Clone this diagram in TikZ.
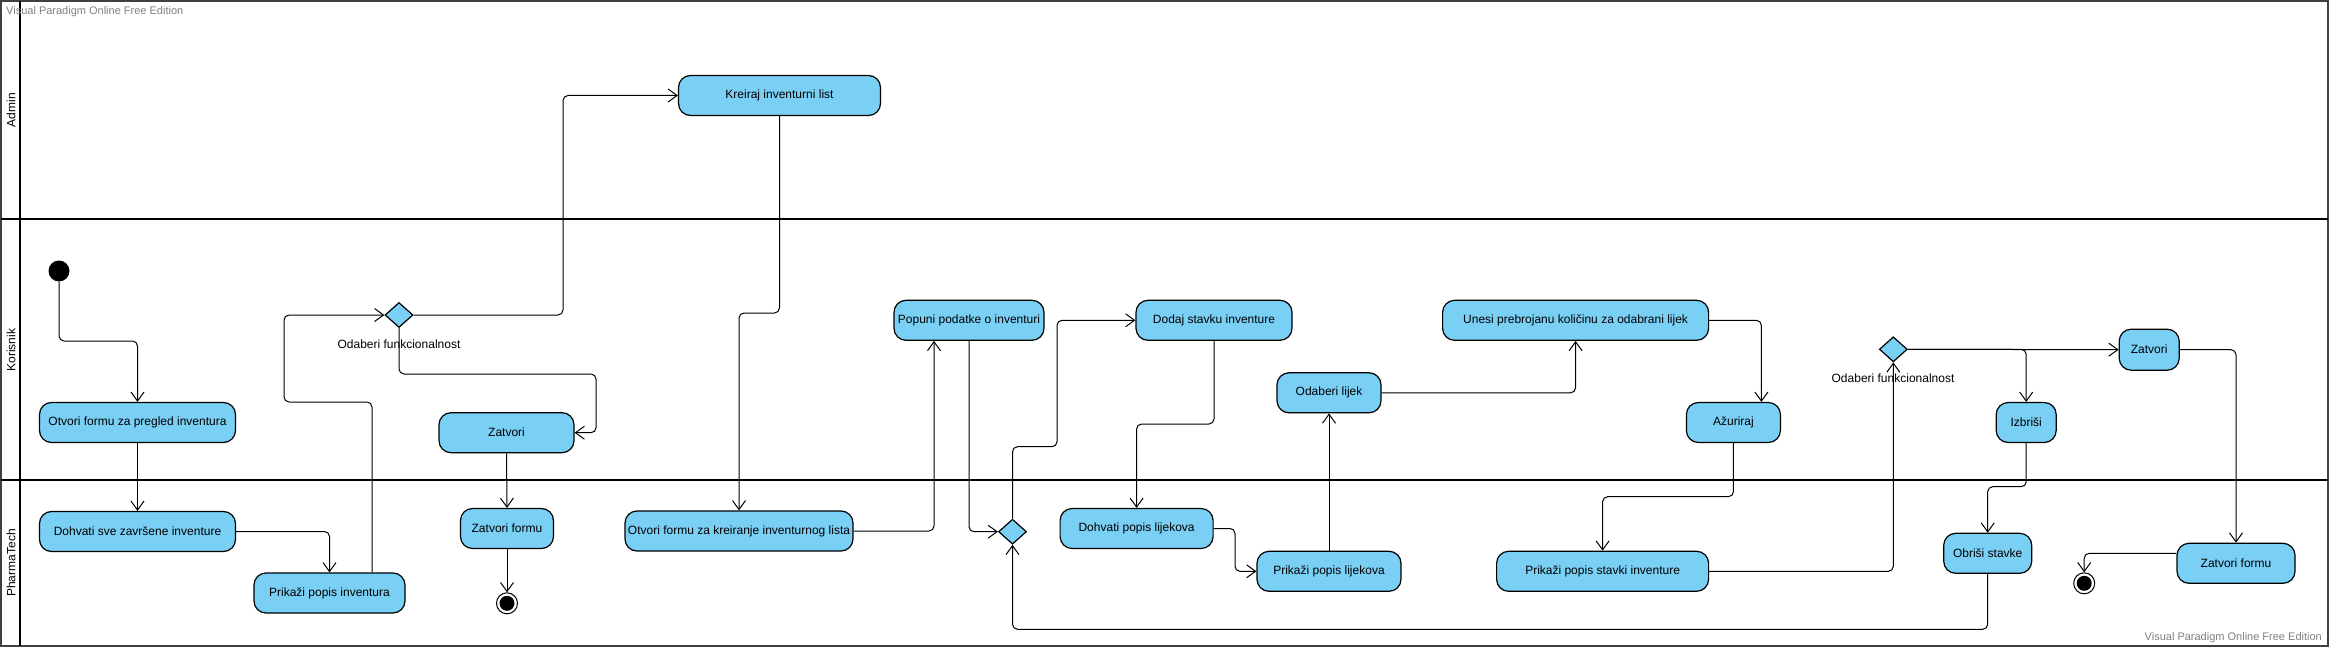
\documentclass[tikz,border=0pt]{standalone}
\usepackage{fontspec}
\setmainfont{Liberation Sans}
\usetikzlibrary{shapes.geometric,arrows.meta,calc}
\definecolor{actblue}{HTML}{7ACFF5}
\definecolor{framegray}{HTML}{404040}
\begin{document}
\begin{tikzpicture}[x=1pt,y=-1pt,
  act/.style={draw=black,line width=1.2pt,fill=actblue,rounded corners=12pt,
    minimum height=40pt,inner sep=0pt,font=\fontsize{12}{14}\selectfont},
  dec/.style={draw=black,line width=1.2pt,fill=actblue,shape=diamond,
    minimum width=28pt,minimum height=25pt,inner sep=0pt},
  lbl/.style={font=\fontsize{12}{14}\selectfont,inner sep=0pt},
  flow/.style={draw=black,line width=1pt,rounded corners=5pt,
    -{Straight Barb[length=9pt,width=13pt,line width=1pt]}},
  plain/.style={draw=black,line width=1pt,rounded corners=5pt},
  lane/.style={draw=black,line width=2.5pt},
  wm/.style={font=\fontsize{11}{13}\selectfont,text=gray,inner sep=0pt},
  startnode/.style={circle,fill=black,minimum size=21pt,inner sep=0pt},
  endnode/.style={circle,draw=black,line width=1pt,fill=white,minimum size=21pt,inner sep=0pt,
    path picture={\fill[black] (path picture bounding box.center) circle (7.5pt);}}
]
\useasboundingbox (0,0) rectangle (2329,647);
% frame and lanes
\draw[framegray,line width=2pt] (1,1) rectangle (2328,645.5);
\draw[lane] (1,219) -- (2328,219);
\draw[lane] (1,480) -- (2328,480);
\draw[black,line width=2pt] (20,1) -- (20,645.5);
\node[lbl,rotate=90] (lnA) at (11,110) {Admin};
\node[lbl,rotate=90] (lnK) at (11,350) {Korisnik};
\node[lbl,rotate=90] (lnP) at (11,563) {PharmaTech};
\node[wm,anchor=west] (wm1) at (6,11.5) {Visual Paradigm Online Free Edition};
\node[wm,anchor=east] (wm2) at (2322,638) {Visual Paradigm Online Free Edition};

% nodes
\node[startnode] (init) at (59,271) {};
\node[act,minimum width=196pt] (otv1) at (137.5,422.5) {Otvori formu za pregled inventura};
\node[act,minimum width=196pt] (dohv1) at (137.5,531.5) {Dohvati sve završene inventure};
\node[act,minimum width=151pt] (prik1) at (329.5,593) {Prikaži popis inventura};
\node[dec] (dec1) at (399,315) {};
\node[lbl] (lbl1) at (399,344) {Odaberi funkcionalnost};
\node[act,minimum width=202pt] (kreir) at (779.5,95.5) {Kreiraj inventurni list};
\node[act,minimum width=135pt] (zatv1) at (506.5,432.7) {Zatvori};
\node[act,minimum width=93pt] (zatf1) at (507,528.5) {Zatvori formu};
\node[endnode] (fin1) at (507,603.3) {};
\node[act,minimum width=228pt] (otv2) at (739,531) {Otvori formu za kreiranje inventurnog lista};
\node[act,minimum width=150pt] (pop) at (969,320.3) {Popuni podatke o inventuri};
\node[dec] (dec2) at (1012.5,531.7) {};
\node[act,minimum width=156pt] (dodaj) at (1214,320.3) {Dodaj stavku inventure};
\node[act,minimum width=153pt] (dohv2) at (1136.6,528.5) {Dohvati popis lijekova};
\node[act,minimum width=144pt] (prik2) at (1329,571.3) {Prikaži popis lijekova};
\node[act,minimum width=104pt] (odab) at (1329,392.8) {Odaberi lijek};
\node[act,minimum width=266pt] (unesi) at (1575.6,320.3) {Unesi prebrojanu količinu za odabrani lijek};
\node[act,minimum width=94pt] (azur) at (1733.4,422.5) {Ažuriraj};
\node[act,minimum width=212pt] (prik3) at (1602.6,571.3) {Prikaži popis stavki inventure};
\node[dec] (dec3) at (1893.3,349.3) {};
\node[lbl] (lbl3) at (1893,378.3) {Odaberi funkcionalnost};
\node[act,minimum width=60pt,minimum height=41pt] (zatv2) at (2149.2,349.7) {Zatvori};
\node[act,minimum width=60pt] (izbr) at (2026.2,422.5) {Izbriši};
\node[act,minimum width=88pt] (obr) at (1987.7,553.3) {Obriši stavke};
\node[act,minimum width=118pt] (zatf2) at (2236,563.3) {Zatvori formu};
\node[endnode] (fin2) at (2084.2,583.3) {};

% connectors
\draw[flow] (init.south) -- (59,341) -- (137.5,341) -- (otv1.north);
\draw[flow] (otv1.south) -- (dohv1.north);
\draw[flow] (dohv1.east) -- (329.5,531.5) -- (prik1.north);
\draw[flow] ($(prik1.north)+(42.5,0)$) -- (372,402) -- (284,402) -- (284,315) -- (dec1.west);
\draw[flow] (dec1.east) -- (563,315) -- (563,95.5) -- (kreir.west);
\draw[flow] (kreir.south) -- (779.5,313) -- (739,313) -- (otv2.north);
\draw[flow] (dec1.south) -- (399,374) -- (596,374) -- (596,432.7) -- (zatv1.east);
\draw[flow] (zatv1.south) -- (zatf1.north);
\draw[flow] (zatf1.south) -- (fin1.north);
\draw[flow] (otv2.east) -- (934,531) -- ($(pop.south)+(-35,0)$);
\draw[flow] (pop.south) -- (969,531.7) -- (dec2.west);
\draw[flow] (dec2.north) -- (1012.5,446.7) -- (1057,446.7) -- (1057,320.3) -- (dodaj.west);
\draw[flow] (dodaj.south) -- (1214,424) -- (1136.6,424) -- (dohv2.north);
\draw[flow] (dohv2.east) -- (1235,528.5) -- (1235,571.3) -- (prik2.west);
\draw[flow] (prik2.north) -- (odab.south);
\draw[flow] (odab.east) -- (1575.6,392.8) -- (unesi.south);
\draw[flow] (unesi.east) -- (1761.3,320.3) -- ($(azur.north)+(28,0)$);
\draw[flow] (azur.south) -- (1733.4,496.7) -- (1602.6,496.7) -- (prik3.north);
\draw[flow] (prik3.east) -- (1893.3,571.3) -- (dec3.south);
\draw[flow] (dec3.east) -- (zatv2.west);
\draw[flow] (dec3.east) -- (2026.2,349.3) -- (izbr.north);
\draw[flow] (izbr.south) -- (2026.2,486.7) -- (1987.7,486.7) -- (obr.north);
\draw[flow] (obr.south) -- (1987.7,629.3) -- (1012.5,629.3) -- (dec2.south);
\draw[flow] (zatv2.east) -- (2236,349.7) -- (zatf2.north);
\draw[flow] ($(zatf2.west)+(0,-10)$) -- (2084.2,553.3) -- (fin2.north);
\end{tikzpicture}
\end{document}
